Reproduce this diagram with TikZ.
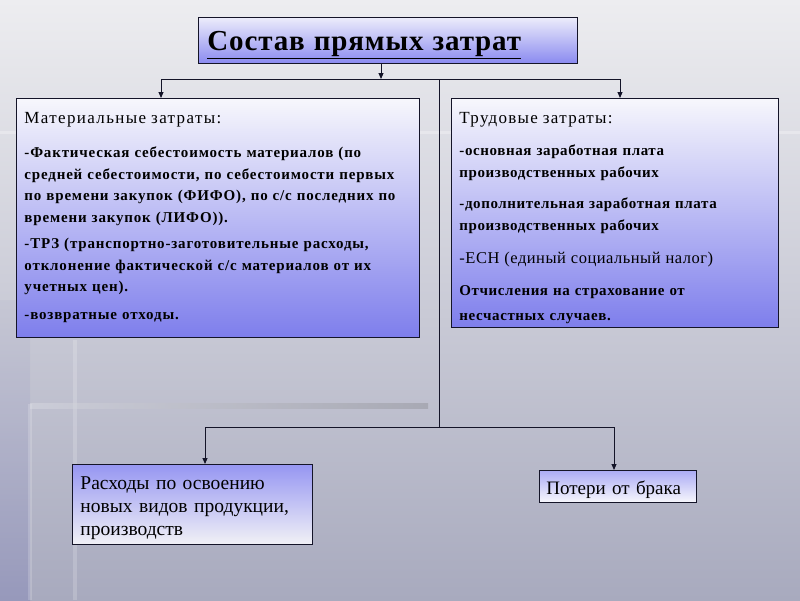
\documentclass[tikz,border=0pt]{standalone}
\usepackage{fontspec}
\setmainfont{Liberation Serif}
\usetikzlibrary{arrows.meta}
\definecolor{bgtop}{RGB}{237,237,240}
\definecolor{bgbot}{RGB}{168,170,190}
\definecolor{boxlight}{RGB}{247,247,252}
\definecolor{boxblue}{RGB}{126,126,236}
\definecolor{titleblue}{RGB}{138,138,240}
\definecolor{lowblue}{RGB}{150,150,242}
\definecolor{edge}{RGB}{20,20,40}
\tikzset{
  anybox/.style={draw=edge, line width=0.9pt, anchor=north west, align=left, inner ysep=0pt, text=black},
  topbox/.style={anybox, top color=boxlight, bottom color=boxblue, inner xsep=8pt},
  titlebox/.style={anybox, top color=boxlight!90!titleblue, bottom color=titleblue, inner xsep=9pt},
  lowbox/.style={anybox, top color=lowblue, bottom color=boxlight!95!gray, inner xsep=8pt},
  potbox/.style={anybox, top color=lowblue!80!white, bottom color=boxlight, inner xsep=7pt},
  wire/.style={draw=edge, line width=0.9pt},
  arr/.style={wire, -{Triangle[length=6pt,width=5pt]}}
}
\newcommand{\topstrut}[1]{\rule{0pt}{#1pt}}
\newcommand{\botstrut}[1]{\rule[-#1pt]{0pt}{#1pt}}
\newcommand{\hdfont}{\fontsize{17}{22}\selectfont\mdseries\addfontfeatures{LetterSpace=8}}
\newcommand{\bodyfont}{\fontsize{15}{21.7}\selectfont\bfseries\addfontfeatures{LetterSpace=5.5}}
\begin{document}
\begin{tikzpicture}[x=1pt,y=-1pt]
\useasboundingbox (0,0) rectangle (800,600);
% background
\shade[top color=bgtop, bottom color=bgbot] (0,0) rectangle (800,600);
\shade[top color=bgbot!60!bgtop, bottom color={rgb,255:red,140;green,142;blue,186}, opacity=0.6] (0,300) rectangle (30,600);
\fill[white, opacity=0.3] (0,131) rectangle (800,134);
\fill[white, opacity=0.18] (73,340) rectangle (77,600);
\fill[white, opacity=0.18] (28,404) rectangle (32,600);
\shade[left color=white!60!bgbot, right color=gray!65!bgbot, opacity=0.45] (30,403) rectangle (428,408);

% title
\node[titlebox, text width=361pt] (title) at (198,17)
  {\topstrut{33}\fontsize{29}{30}\selectfont\bfseries\addfontfeatures{LetterSpace=3}\underline{Состав\hspace{9pt}прямых\hspace{9pt}затрат}\botstrut{13}};

% top boxes
\node[topbox, text width=387pt, font=\bodyfont] (mat) at (16,98)
  {\topstrut{25}{\hdfont Материальные затраты:}\\[12.3pt]
   -Фактическая себестоимость материалов (по\\
   средней себестоимости, по себестоимости первых\\
   по времени закупок (ФИФО), по с/с последних по\\
   времени закупок (ЛИФО)).\\[4.3pt]
   -ТРЗ (транспортно-заготовительные расходы,\\
   отклонение фактической с/с материалов от их\\
   учетных цен).\\[6.3pt]
   -возвратные отходы.\botstrut{17}};

\node[topbox, text width=311pt, font=\fontsize{15}{22}\selectfont\bfseries\addfontfeatures{LetterSpace=4}] (trud) at (451,98)
  {\topstrut{25}{\fontsize{17}{22}\selectfont\mdseries\addfontfeatures{LetterSpace=7.5}Трудовые затраты:}\\[10pt]
   -основная заработная плата\\
   производственных рабочих\\[9pt]
   -дополнительная заработная плата\\
   производственных рабочих\\[11pt]
   {\mdseries\fontsize{16.5}{22}\selectfont\addfontfeatures{LetterSpace=3}-ЕСН (единый социальный налог)}\\[10pt]
   Отчисления на страхование от\\[3pt]
   несчастных случаев.\botstrut{7}};

% bottom boxes
\node[lowbox, text width=224pt, font=\fontsize{19.5}{23}\selectfont] (ras) at (72,464)
  {\topstrut{25}Расходы по освоению\\
   новых видов продукции,\\
   производств\botstrut{9}};

\node[potbox, text width=143pt, font=\fontsize{19}{23}\selectfont] (pot) at (539,470)
  {\topstrut{24}Потери от брака\botstrut{8}};

% connectors
\coordinate (jt) at (381,79);
\coordinate (bl) at (161,79);
\coordinate (br) at (620,79);
\coordinate (tk) at (439,79);
\coordinate (tb) at (439,427);
\coordinate (ll) at (205,427);
\coordinate (lr) at (614,427);
\draw[arr] (title.south -| jt) -- (jt);
\draw[wire] (bl) -- (br);
\draw[arr] (bl) -- (mat.north -| bl);
\draw[arr] (br) -- (trud.north -| br);
\draw[wire] (tk) -- (tb);
\draw[wire] (ll) -- (lr);
\draw[arr] (ll) -- (ras.north -| ll);
\draw[arr] (lr) -- (pot.north -| lr);
\end{tikzpicture}
\end{document}
